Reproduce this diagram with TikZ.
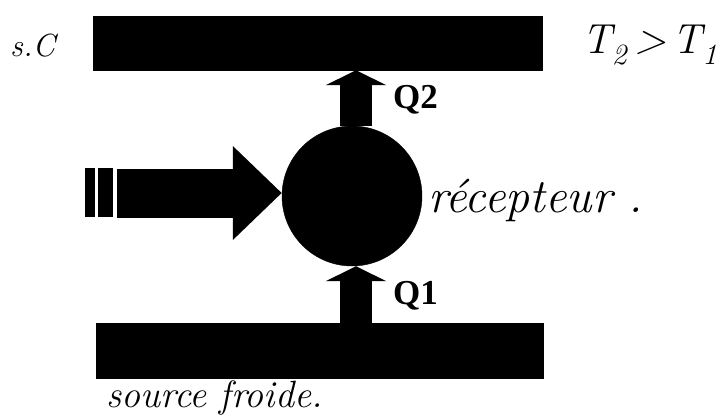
\documentclass[tikz,border=0pt]{standalone}
\usepackage{fontspec}
\newfontfamily\qfont{Liberation Serif}
\usetikzlibrary{arrows.meta}
\tikzset{
  bar/.style={fill=black, draw=black, inner sep=0pt, minimum width=449pt, minimum height=54pt},
  recbox/.style={circle, fill=black, draw=black, inner sep=0pt, minimum size=140pt},
  flux/.style={line width=32pt, -{Triangle[width=60pt,length=15pt]}},
  work/.style={line width=49pt, -{Triangle[width=91pt,length=49pt]}},
  stripe/.style={fill=black, inner sep=0pt, minimum height=49pt},
  hand/.style={font=\itshape\fontsize{#1}{#1}\selectfont, inner sep=0pt},
  qlab/.style={font=\qfont\bfseries\fontsize{35}{35}\selectfont, inner sep=0pt}
}
\begin{document}
\begin{tikzpicture}[x=1pt,y=-1pt]
\useasboundingbox (0,0) rectangle (728,416);
% reservoirs
\node[bar] (hot) at (317.5,43) {};
\node[bar, minimum width=447pt, minimum height=55pt] (cold) at (319.5,350.5) {};
% receptor
\node[recbox] (rec) at (352,196) {};
% heat fluxes
\draw[flux] ([xshift=4pt]rec.north) -- ([xshift=4pt]rec.north |- hot.south);
\draw[flux] ([xshift=4pt]rec.south |- cold.north) -- ([xshift=4pt]rec.south);
% work input
\coordinate (win) at (117,193);
\draw[work] (win) -- (rec.west |- win);
\node[stripe, minimum width=10pt] (s1) at (90,192.5) {};
\node[stripe, minimum width=15pt] (s2) at (105.5,192.5) {};
% labels
\node[qlab, anchor=west] (q2) at (393,100) {Q2};
\node[qlab, anchor=west] (q1) at (393,296) {Q1};
\node[hand=32, anchor=west] (sc) at (10,46) {s.C};
\node[hand=42, anchor=center] (tt) at (650,45) {T\textsubscript{2}\,>\,T\textsubscript{1}};
\node[hand=48, anchor=base west] (rlab) at (428,212) {récepteur .};
\node[hand=38, anchor=base west] (flab) at (106,407) {\addfontfeature{LetterSpace=14}source froide.};
\end{tikzpicture}
\end{document}
